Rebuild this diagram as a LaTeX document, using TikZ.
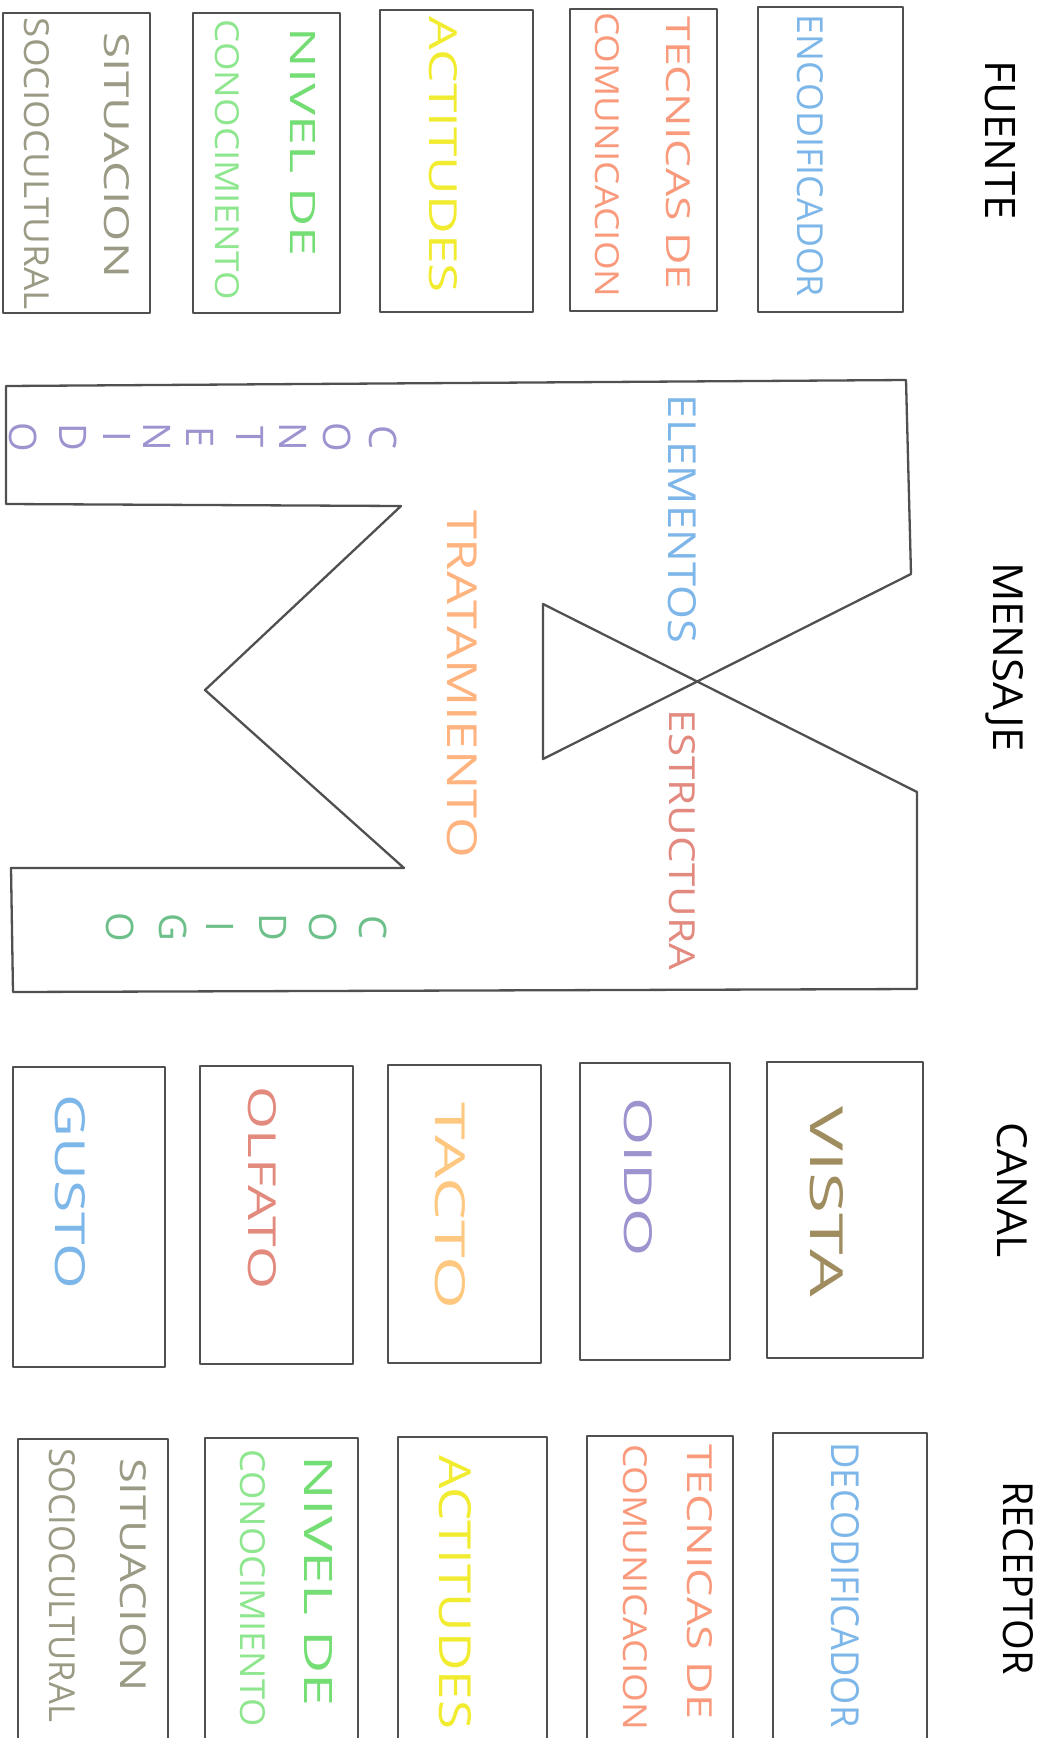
\documentclass[tikz,border=0pt]{standalone}
\usepackage{fontspec}
\setmainfont{Open Sans}
\usepackage{graphicx}
\definecolor{lg}{HTML}{505050}
\definecolor{cblue}{HTML}{7DB6E8}
\definecolor{csalmon}{HTML}{F99A7C}
\definecolor{cyellow}{HTML}{F2EC30}
\definecolor{cgreen}{HTML}{74DE74}
\definecolor{cgreenb}{HTML}{8EE68E}
\definecolor{cgray}{HTML}{9B9B85}
\definecolor{cvista}{HTML}{9F8D60}
\definecolor{cpurple}{HTML}{9D94CF}
\definecolor{ctacto}{HTML}{FFC880}
\definecolor{colfato}{HTML}{E38A7E}
\definecolor{ctrat}{HTML}{FFB37E}
\definecolor{cestr}{HTML}{E38A80}
\definecolor{ccod}{HTML}{6DC08A}
\newcommand\fitt[3]{\resizebox{#1pt}{#2pt}{#3}}
\begin{document}
\begin{tikzpicture}[x=1pt,y=-1pt,
  frame/.style={draw=lg, line width=2.6pt, line join=round},
  mline/.style={draw=lg, line width=2.3pt, line join=round},
  lbl/.style={rotate=-90, inner sep=0pt, font=\fontsize{30}{36}\selectfont},
  letter/.style={rotate=-90, inner sep=0pt, font=\fontsize{38}{44}\selectfont}]
\useasboundingbox (0,0) rectangle (1045,1738);
\fill[white] (0,0) rectangle (1045,1738);
% ---------- FUENTE ----------
\node[lbl] (tfuente) at (1000,140) {\fitt{160}{30}{FUENTE}};
\draw[frame] (758,7) rectangle (903,312);
\draw[frame] (570,9) rectangle (717,311);
\draw[frame] (380,10) rectangle (533,312);
\draw[frame] (193,13) rectangle (340,313);
\draw[frame] (3,13) rectangle (150,313);
\node[lbl,text=cblue] (f1) at (810,156) {\fitt{282}{26}{ENCODIFICADOR}};
\node[lbl,text=csalmon] (f2a) at (678,153) {\fitt{273}{24}{TECNICAS DE}};
\node[lbl,text=csalmon] (f2b) at (607,155) {\fitt{285}{24}{COMUNICACION}};
\node[lbl,text=cyellow] (f3) at (443,155) {\fitt{276}{28}{ACTITUDES}};
\node[lbl,text=cgreen] (f4a) at (303,142) {\fitt{229}{25}{NIVEL DE}};
\node[lbl,text=cgreenb] (f4b) at (227,160) {\fitt{280}{24}{CONOCIMIENTO}};
\node[lbl,text=cgray] (f5a) at (117,155) {\fitt{246}{25}{SITUACION}};
\node[lbl,text=cgray] (f5b) at (37,164) {\fitt{292}{25}{SOCIOCULTURAL}};
% ---------- MENSAJE ----------
\node[lbl] (tmensaje) at (1005,657) {\fitt{190}{30}{MENSAJE}};
\draw[mline] (6,386) -- (906,380) -- (911,574) -- (543,759) -- (543,604)
  -- (917,792) -- (917,989) -- (13,992) -- (11,868) -- (404,868)
  -- (205,690) -- (401,506) -- (6,504) -- cycle;
\node[lbl,text=cblue] (m1) at (682,519) {\fitt{248}{28}{ELEMENTOS}};
\node[lbl,text=cestr] (m2) at (682,840) {\fitt{260}{26}{ESTRUCTURA}};
\node[lbl,text=ctrat] (m3) at (462,684) {\fitt{348}{30}{TRATAMIENTO}};
\foreach \l/\xx [count=\i] in {C/383,O/337,N/293,T/250,E/200,N/157,I/117,D/73,O/23}
  \node[letter,text=cpurple] (cont\i) at (\xx,437) {\l};
\foreach \l/\xx [count=\i] in {C/373,O/323,D/273,I/220,G/173,O/120}
  \node[letter,text=ccod] (cod\i) at (\xx,927) {\l};
% ---------- CANAL ----------
\node[lbl] (tcanal) at (1012,1190) {\fitt{135}{30}{CANAL}};
\draw[frame] (767,1062) rectangle (923,1358);
\draw[frame] (580,1063) rectangle (730,1360);
\draw[frame] (388,1065) rectangle (541,1363);
\draw[frame] (200,1066) rectangle (353,1364);
\draw[frame] (13,1067) rectangle (165,1367);
\node[lbl,text=cvista] (c1) at (827,1202) {\fitt{191}{33}{VISTA}};
\node[lbl,text=cpurple] (c2) at (638,1177) {\fitt{159}{28}{OIDO}};
\node[lbl,text=ctacto] (c3) at (450,1206) {\fitt{207}{30}{TACTO}};
\node[lbl,text=colfato] (c4) at (262,1188) {\fitt{203}{28}{OLFATO}};
\node[lbl,text=cblue] (c5) at (70,1192) {\fitt{195}{30}{GUSTO}};
% ---------- RECEPTOR ----------
\node[lbl] (treceptor) at (1018,1578) {\fitt{193}{30}{RECEPTOR}};
\draw[frame] (773,1750) -- (773,1433) -- (927,1433) -- (927,1750);
\draw[frame] (587,1750) -- (587,1436) -- (733,1436) -- (733,1750);
\draw[frame] (398,1750) -- (398,1437) -- (547,1437) -- (547,1750);
\draw[frame] (205,1750) -- (205,1438) -- (358,1438) -- (358,1750);
\draw[frame] (18,1750) -- (18,1439) -- (168,1439) -- (168,1750);
\node[lbl,text=cblue] (r1) at (845,1585) {\fitt{285}{28}{DECODIFICADOR}};
\node[lbl,text=csalmon] (r2a) at (700,1582) {\fitt{275}{25}{TECNICAS DE}};
\node[lbl,text=csalmon] (r2b) at (635,1587) {\fitt{286}{24}{COMUNICACION}};
\node[lbl,text=cyellow] (r3) at (455,1592) {\fitt{274}{32}{ACTITUDES}};
\node[lbl,text=cgreen] (r4a) at (318,1581) {\fitt{252}{28}{NIVEL DE}};
\node[lbl,text=cgreenb] (r4b) at (253,1588) {\fitt{278}{25}{CONOCIMIENTO}};
\node[lbl,text=cgray] (r5a) at (133,1575) {\fitt{234}{26}{SITUACION}};
\node[lbl,text=cgray] (r5b) at (62,1585) {\fitt{274}{26}{SOCIOCULTURAL}};
\end{tikzpicture}
\end{document}
